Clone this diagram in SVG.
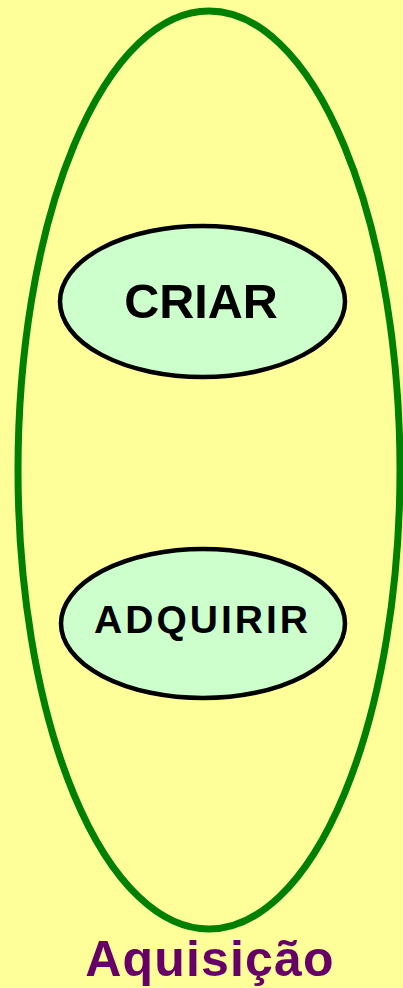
<svg xmlns="http://www.w3.org/2000/svg" width="403" height="988" viewBox="0 0 403 988">
<style>
.node ellipse{fill:#CCFFCC;stroke:#000;stroke-width:4.5}
.lbl{font-family:"Liberation Sans",Arial,sans-serif;font-weight:bold;fill:#000;text-anchor:middle}
</style>
<rect width="403" height="988" fill="#FFFF99"/>
<g id="aquisicao">
<ellipse cx="209" cy="470" rx="191" ry="459" fill="none" stroke="#008000" stroke-width="7"/>
<text x="210" y="976" font-family="Liberation Sans, Arial, sans-serif" font-weight="bold" font-size="50" fill="#660066" text-anchor="middle" letter-spacing="1.2">Aquisição</text>
</g>
<g id="criar" class="node">
<ellipse cx="202.5" cy="301.5" rx="142.5" ry="75.5"/>
<text class="lbl" x="201" y="318" font-size="48.5">CRIAR</text>
</g>
<g id="adquirir" class="node">
<ellipse cx="203" cy="623.5" rx="142" ry="74.5"/>
<text class="lbl" x="202.5" y="633" font-size="39" letter-spacing="3">ADQUIRIR</text>
</g>
<g id="connectors"/>
</svg>
